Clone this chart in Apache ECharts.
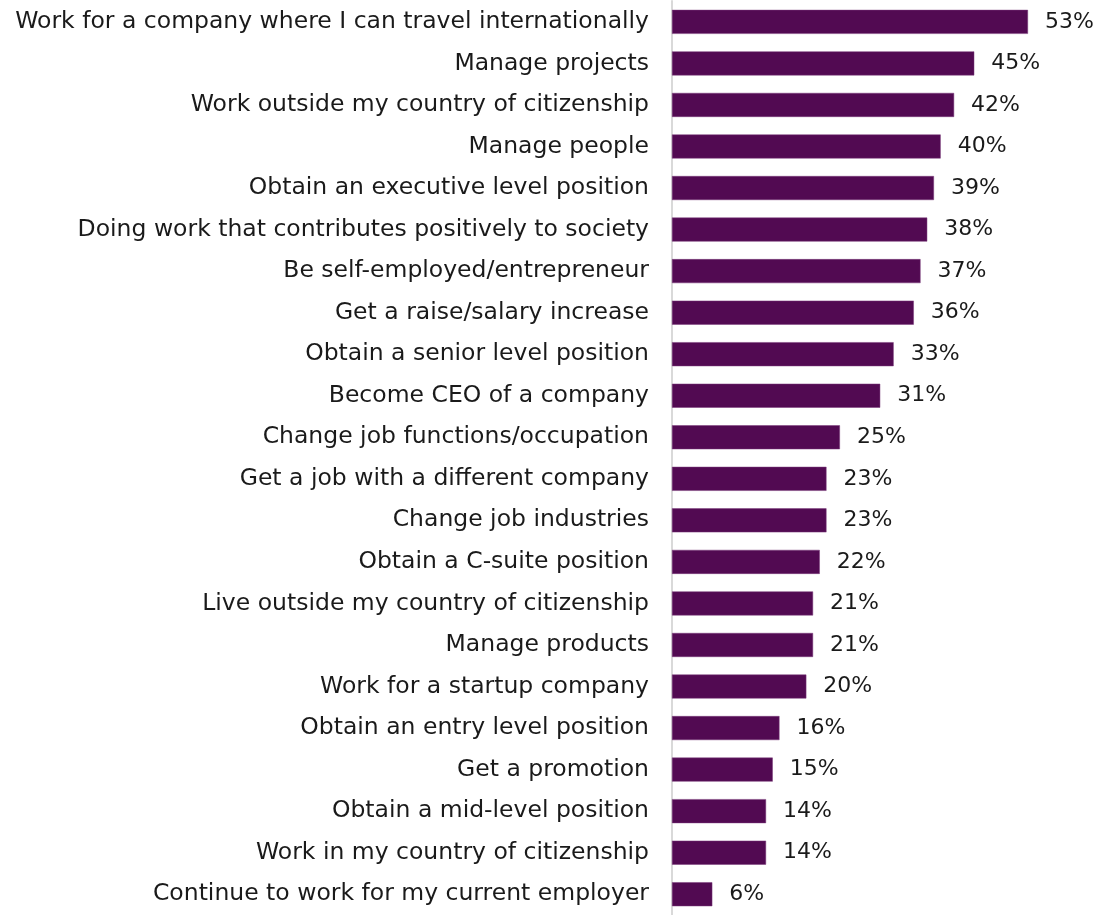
<!DOCTYPE html>
<html><head><meta charset="utf-8">
<script src="https://cdn.jsdelivr.net/npm/echarts@6/dist/echarts.min.js"></script>
<style>html,body{margin:0;padding:0;background:#fff}#c{width:1096px;height:915px}</style>
</head><body><div id="c"></div>
<script>
const categories = [
  "Work for a company where I can travel internationally",
  "Manage projects",
  "Work outside my country of citizenship",
  "Manage people",
  "Obtain an executive level position",
  "Doing work that contributes positively to society",
  "Be self-employed/entrepreneur",
  "Get a raise/salary increase",
  "Obtain a senior level position",
  "Become CEO of a company",
  "Change job functions/occupation",
  "Get a job with a different company",
  "Change job industries",
  "Obtain a C-suite position",
  "Live outside my country of citizenship",
  "Manage products",
  "Work for a startup company",
  "Obtain an entry level position",
  "Get a promotion",
  "Obtain a mid-level position",
  "Work in my country of citizenship",
  "Continue to work for my current employer"
];
const values = [53,45,42,40,39,38,37,36,33,31,25,23,23,22,21,21,20,16,15,14,14,6];

const chart = echarts.init(document.getElementById('c'));
chart.setOption({
  animation: false,
  grid: {left: 672, top: 1.1, width: 403, height: 919.3},
  xAxis: {type: 'value', min: 0, max: 60, show: false},
  yAxis: {
    type: 'category', data: categories, inverse: true,
    axisLine: {show: true, lineStyle: {color: '#d9d9d9', width: 2}},
    axisTick: {show: false},
    axisLabel: {color: '#1a1a1a', fontSize: 23.5, fontFamily: 'DejaVu Sans', margin: 23}
  },
  series: [{
    type: 'bar', data: values, barWidth: 24,
    itemStyle: {color: '#520a52', borderColor: '#7a3a7a', borderWidth: 0.5},
    label: {show: true, position: 'right', distance: 17, formatter: '{c}%', color: '#1a1a1a', fontSize: 22, fontFamily: 'DejaVu Sans'}
  }]
});
</script></body></html>
